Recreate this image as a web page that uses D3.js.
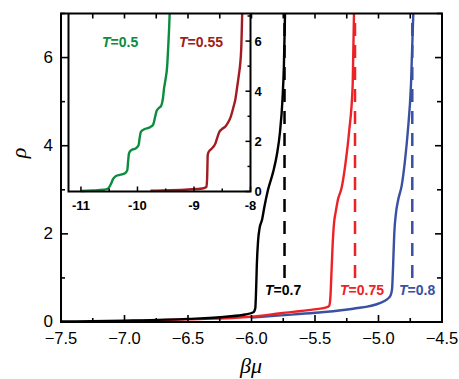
<!DOCTYPE html>
<html><head><meta charset="utf-8">
<script src="https://cdn.jsdelivr.net/npm/d3@7"></script>
<style>body{margin:0;background:#fff}svg{display:block}</style>
</head><body><svg id="c" width="459" height="379"></svg>
<script>
// ---- data ----
const mainXTicks = [-7.5, -7.0, -6.5, -6.0, -5.5, -5.0, -4.5];
const mainYTicks = [0, 2, 4, 6];
const insetXTicks = [-11, -10, -9, -8];
const insetYTicks = [0, 2, 4, 6];

const seriesT07 = [[-7.5,0.01],[-7.0,0.03],[-6.5,0.07],[-6.2,0.12],[-6.05,0.17],[-5.985,0.22],[-5.97,0.32],[-5.963,0.8],[-5.958,1.3],[-5.948,1.85],[-5.935,2.15],[-5.917,2.32],[-5.898,2.62],[-5.87,3.0],[-5.83,3.4],[-5.80,3.8],[-5.776,4.3],[-5.756,5.05],[-5.745,5.8],[-5.736,7.0]];
const seriesT075 = [[-7.0,0.02],[-6.5,0.06],[-6.0,0.12],[-5.77,0.2],[-5.52,0.28],[-5.41,0.33],[-5.388,0.37],[-5.378,0.6],[-5.372,1.0],[-5.362,1.7],[-5.35,2.25],[-5.337,2.5],[-5.32,2.77],[-5.29,3.05],[-5.26,3.6],[-5.232,4.3],[-5.203,5.4],[-5.193,7.0]];
const seriesT08 = [[-6.0,0.1],[-5.77,0.15],[-5.5,0.21],[-5.2,0.3],[-4.99,0.43],[-4.93,0.52],[-4.905,0.6],[-4.893,0.75],[-4.886,1.2],[-4.876,2.0],[-4.862,2.48],[-4.845,2.77],[-4.817,3.1],[-4.79,3.7],[-4.77,4.3],[-4.744,5.4],[-4.726,7.0]];
const dashedX = {"0.7": -5.74, "0.75": -5.185, "0.8": -4.734};
const dashedRho = [1.0, 7.0];

const seriesT05 = [[-11.0,0.02],[-10.8,0.04],[-10.6,0.07],[-10.52,0.12],[-10.47,0.3],[-10.43,0.5],[-10.38,0.62],[-10.3,0.67],[-10.22,0.73],[-10.18,0.85],[-10.165,1.2],[-10.15,1.52],[-10.11,1.65],[-10.03,1.72],[-9.98,1.85],[-9.96,2.15],[-9.94,2.38],[-9.88,2.48],[-9.78,2.56],[-9.72,2.68],[-9.69,2.95],[-9.66,3.22],[-9.62,3.33],[-9.58,3.42],[-9.55,3.7],[-9.53,4.1],[-9.505,4.45],[-9.475,4.98],[-9.455,5.8],[-9.44,6.5],[-9.43,7.1]];
const seriesT055 = [[-9.77,0.03],[-9.4,0.05],[-9.1,0.08],[-8.85,0.12],[-8.78,0.18],[-8.768,0.5],[-8.762,1.0],[-8.757,1.45],[-8.74,1.58],[-8.71,1.66],[-8.62,1.92],[-8.58,2.2],[-8.55,2.38],[-8.5,2.5],[-8.44,2.6],[-8.39,2.78],[-8.35,2.98],[-8.3,3.38],[-8.27,3.65],[-8.235,4.18],[-8.21,4.58],[-8.165,5.64],[-8.147,7.1]];

const colors = {k:"#000000", r:"#ec2227", b:"#3a50a2", g:"#0b8c3e", dr:"#a11b20"};

// ---- scales ----
const svg = d3.select("#c");
const x = d3.scaleLinear().domain([-7.5,-4.5]).range([61,442]);
const y = d3.scaleLinear().domain([0,7]).range([322,13.5]);
const xi = d3.scaleLinear().domain([-11.22,-8]).range([68.5,250.5]);
const yi = d3.scaleLinear().domain([0,7.1]).range([191.5,13.5]);

const lineMain = d3.line().x(d=>x(d[0])).y(d=>y(d[1])).curve(d3.curveMonotoneX);
const lineIn = d3.line().x(d=>xi(d[0])).y(d=>yi(d[1])).curve(d3.curveMonotoneX);

const main = svg.append("g");
[[seriesT08,colors.b],[seriesT075,colors.r],[seriesT07,colors.k]].forEach(([s,c])=>{
  main.append("path").attr("d",lineMain(s)).attr("fill","none").attr("stroke",c).attr("stroke-width",2.4);
});
[["0.7",colors.k],["0.75",colors.r],["0.8",colors.b]].forEach(([k,c])=>{
  main.append("line").attr("x1",x(dashedX[k])).attr("x2",x(dashedX[k]))
    .attr("y1",y(dashedRho[0])).attr("y2",y(dashedRho[1]))
    .attr("stroke",c).attr("stroke-width",2.5).attr("stroke-dasharray","13,9");
});

function tlabel(g, xp, yp, val, col){
  const t = g.append("text").attr("x",xp).attr("y",yp).attr("fill",col)
    .attr("font-family","Liberation Sans, Arial, sans-serif").attr("font-size",14).attr("font-weight","bold");
  t.append("tspan").attr("font-style","italic").text("T");
  t.append("tspan").text("="+val);
}
tlabel(main, 265, 295, "0.7", colors.k);
tlabel(main, 340, 295, "0.75", colors.r);
tlabel(main, 399, 295, "0.8", colors.b);

// ---- inset ----
const ins = svg.append("g");
ins.append("rect").attr("x",xi(-11.22)).attr("y",yi(7.1)).attr("width",xi(-8)-xi(-11.22)).attr("height",yi(0)-yi(7.1)).attr("fill","#fff");
ins.append("path").attr("d",lineIn(seriesT05)).attr("fill","none").attr("stroke",colors.g).attr("stroke-width",2.4);
ins.append("path").attr("d",lineIn(seriesT055)).attr("fill","none").attr("stroke",colors.dr).attr("stroke-width",2.4);
tlabel(ins, 102, 47, "0.5", colors.g);
tlabel(ins, 179, 47, "0.55", colors.dr);

const fmt = v => (v<0 ? "\u2212" : "") + Math.abs(v).toFixed(1);
const ibot = ins.append("g").attr("transform",`translate(0,${yi(0)})`);
ibot.selectAll("line.t").data(d3.range(-11,-7.99,0.5)).join("line")
  .attr("x1",d=>xi(d)).attr("x2",d=>xi(d)).attr("y1",0).attr("y2",d=>Number.isInteger(d)?-5:-3)
  .attr("stroke","#000").attr("stroke-width",1.5);
ibot.selectAll("text").data(insetXTicks).join("text").attr("x",d=>xi(d)).attr("y",18)
  .attr("text-anchor","middle").attr("font-family","Liberation Sans, Arial, sans-serif")
  .attr("font-size",13).attr("font-weight","bold").text(d=>"-"+Math.abs(d));
const iright = ins.append("g").attr("transform",`translate(${xi(-8)},0)`);
iright.selectAll("line").data(d3.range(0,7.01,1)).join("line")
  .attr("x1",0).attr("x2",d=>d%2===0?-5:-3).attr("y1",d=>yi(d)).attr("y2",d=>yi(d))
  .attr("stroke","#000").attr("stroke-width",1.5);
iright.selectAll("text").data(insetYTicks).join("text").attr("x",4).attr("y",d=>yi(d))
  .attr("dy","0.36em").attr("font-family","Liberation Sans, Arial, sans-serif")
  .attr("font-size",13).attr("font-weight","bold").text(d=>d);
ins.append("path").attr("d",`M${xi(-11.22)},${yi(7.1)}V${yi(0)}H${xi(-8)}V${yi(7.1)}`)
  .attr("fill","none").attr("stroke","#000").attr("stroke-width",2);

// ---- main axes ----
const ax = svg.append("g");
const minorX = d3.range(-7.5,-4.49,0.25);
const isMajX = d => Math.abs(d*2-Math.round(d*2))<1e-6;
ax.selectAll("line.bx").data(minorX).join("line").attr("class","bx")
  .attr("x1",d=>x(d)).attr("x2",d=>x(d)).attr("y1",y(0)).attr("y2",d=>y(0)-(isMajX(d)?7:4))
  .attr("stroke","#000").attr("stroke-width",1.6);
ax.selectAll("line.tx").data(minorX).join("line").attr("class","tx")
  .attr("x1",d=>x(d)).attr("x2",d=>x(d)).attr("y1",y(7)).attr("y2",y(7)+5)
  .attr("stroke","#000").attr("stroke-width",1.6);
const yt = d3.range(0,7.01,1);
ax.selectAll("line.ly").data(yt).join("line").attr("class","ly")
  .attr("y1",d=>y(d)).attr("y2",d=>y(d)).attr("x1",x(-7.5)).attr("x2",d=>x(-7.5)+(d%2===0?7:4))
  .attr("stroke","#000").attr("stroke-width",1.6);
ax.selectAll("line.ry").data(yt).join("line").attr("class","ry")
  .attr("y1",d=>y(d)).attr("y2",d=>y(d)).attr("x1",x(-4.5)).attr("x2",d=>x(-4.5)-(d%2===0?7:5))
  .attr("stroke","#000").attr("stroke-width",1.6);
ax.append("rect").attr("x",x(-7.5)).attr("y",y(7)).attr("width",x(-4.5)-x(-7.5)).attr("height",y(0)-y(7))
  .attr("fill","none").attr("stroke","#000").attr("stroke-width",2);
ax.selectAll("text.xl").data(mainXTicks).join("text").attr("class","xl")
  .attr("x",d=>x(d)).attr("y",344).attr("text-anchor","middle")
  .attr("font-family","Liberation Sans, Arial, sans-serif").attr("font-size",16.5).text(d=>fmt(d));
ax.selectAll("text.yl").data(mainYTicks).join("text").attr("class","yl")
  .attr("x",53).attr("y",d=>y(d)-1).attr("dy","0.36em").attr("text-anchor","end")
  .attr("font-family","Liberation Sans, Arial, sans-serif").attr("font-size",17).text(d=>d);

svg.append("text").attr("transform","translate(18,153) rotate(-90)").attr("text-anchor","middle")
  .attr("dominant-baseline","central").attr("font-family","Liberation Serif, serif")
  .attr("font-style","italic").attr("font-size",22).text("ρ");
svg.append("text").attr("x",251).attr("y",373).attr("text-anchor","middle")
  .attr("font-family","Liberation Serif, serif").attr("font-style","italic").attr("font-size",22).text("βμ");
</script></body></html>
